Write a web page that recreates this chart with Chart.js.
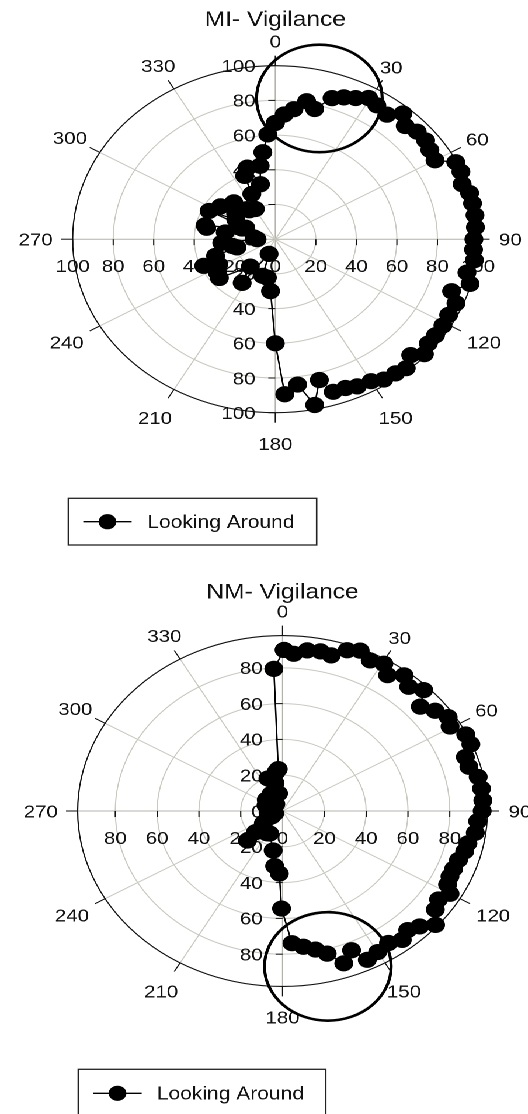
<!DOCTYPE html>
<html>
<head>
<meta charset="utf-8">
<title>Vigilance polar plots</title>
<script src="https://cdn.jsdelivr.net/npm/chart.js@4.4.1/dist/chart.umd.min.js"></script>
<style>
  html, body { margin: 0; padding: 0; background: #fff; width: 528px; height: 1114px; overflow: hidden; }
  /* the plots are drawn on round axes and widened to the page width */
  #stage { position: absolute; left: 0; top: 0; width: 452px; height: 1114px;
           transform: scaleX(1.168); transform-origin: 0 0; }
  #stage canvas { position: absolute; left: 0; }
  #miChart { top: 0; }
  #nmChart { top: 560px; }
</style>
</head>
<body>
<div id="stage">
  <canvas id="miChart" width="452" height="560"></canvas>
  <canvas id="nmChart" width="452" height="554"></canvas>
</div>
<script>
// ---- data: heading (degrees, clockwise from 0) and percentage of time ----
const seriesLabel = 'Looking Around';

const miTitle = 'MI- Vigilance';
const miAngles = [0, 3.5, 7, 11, 14.5, 19, 22.5, 26, 29.5, 33, 37.5, 41, 44.5, 48.5, 52.5,
  56, 60, 63.5, 67, 71, 74.5, 78, 82, 86, 90, 93.5, 97, 101.5, 105, 109,
  112.5, 117, 121, 125, 128.5, 132, 135, 139, 142.5, 146.5, 150, 154.5, 158, 162, 165,
  168.5, 172.5, 177, 180, 184.5, 190, 196.5, 200, 213, 218, 231, 236, 242.5, 246.5, 252,
  256, 259.5, 265.5, 270, 275, 279, 281, 283, 290.5, 294.5, 296.5, 300, 305, 307, 316, 320,
  322.5, 330.5, 336, 337.5, 341.5, 347, 350, 353, 356.5];
const miRadii = [67, 72, 75.5, 81, 77.5, 86, 88.5, 90.5, 93.5, 92, 90.5, 96, 91.5, 93.5, 93.5,
  92, 91, 99.5, 99.5, 97.5, 99.5, 99.5, 99.5, 99, 98, 98, 99, 96.5, 99.5, 92,
  96.5, 96, 96.5, 96.5, 96.5, 99, 94.5, 98.5, 97.5, 97, 94.5, 94, 92.5, 92.5, 84,
  97.5, 84.5, 89.5, 60, 30, 22.5, 22, 9, 30, 20, 35.5, 34.5, 31.5, 38.5, 31,
  19.5, 21.5, 26.5, 9, 10.5, 25, 34.5, 35.5, 17.5, 16, 36.5, 22.5, 33, 24.5, 29.5, 22.5,
  21, 20, 28.5, 39.5, 43.5, 32.5, 43, 50.5, 60.5];
const miRingTicks = [20, 40, 60, 80, 100];
const miHighlight = { angle: 15, radius: 84, size: 31 };

const nmTitle = 'NM- Vigilance';
const nmAngles = [0.5, 3.5, 7.5, 11.5, 15, 19, 22.5, 26.5, 30.5, 33.5, 37.5, 41, 45, 48.5, 52.5,
  56.5, 59.5, 64, 67.5, 71, 74.5, 78.5, 82.5, 86.5, 90, 93.5, 97.5, 101.5, 104.5, 108,
  111.5, 114.5, 117.5, 120, 123.5, 127, 131, 134.5, 138, 141.5, 145.5, 150, 154, 157, 161,
  165, 168.5, 172.5, 176.5, 180.5, 182.5, 187, 191.5, 206, 211, 225.5, 227.5, 233, 240, 250,
  262, 275, 291.5, 309, 320, 330, 339, 347, 349, 352, 355, 357];
const nmRadii = [90, 88, 90.5, 91, 90, 95, 97, 94, 95.5, 91, 95.5, 92, 95.5, 88, 92,
  95, 93, 97.5, 97.5, 92.5, 92.5, 95.5, 96, 96, 95.5, 93.5, 93, 90.5, 90, 88.5,
  88, 88, 89, 92.5, 89.5, 91.5, 97, 92, 89.5, 92, 89.5, 91, 92.5, 84.5, 90,
  82.5, 79, 76.5, 74, 54.5, 35, 31, 22.5, 14, 14.5, 23.5, 17.5, 11.5, 6, 4,
  7, 6, 8.5, 10, 5, 11, 19.5, 16, 10, 22, 23.5, 79.5];
const nmRingTicks = [20, 40, 60, 80];
const nmHighlight = { angle: 166, radius: 89.5, size: 30.3 };

const angleTicks = [0, 30, 60, 90, 120, 150, 180, 210, 240, 270, 300, 330];

// ---- drawing helpers ----
const FONT = '"Liberation Sans", Arial, Helvetica, sans-serif';
const GRID = '#c9c9c0';
const AXIS = '#b3b3ab';
const INK = '#111';

const rad = d => d * Math.PI / 180;
const toXY = (deg, r) => ({ x: r * Math.sin(rad(deg)), y: r * Math.cos(rad(deg)) });

// text centred on the height of its capitals
function textMid(ctx, txt, x, y, size, align) {
  ctx.textAlign = align || 'center';
  ctx.textBaseline = 'alphabetic';
  ctx.fillText(txt, x, y + size * 0.358);
}

function polarFrame(cfg) {
  return {
    id: 'polarFrame',
    beforeDatasetsDraw(chart) {
      const { ctx, scales: { x, y } } = chart;
      const cx = x.getPixelForValue(0), cy = y.getPixelForValue(0);
      const rx = r => x.getPixelForValue(r) - cx;
      const ry = r => cy - y.getPixelForValue(r);
      const max = cfg.max;
      ctx.save();
      ctx.lineWidth = 1;

      // rings
      ctx.strokeStyle = GRID;
      cfg.rings.filter(r => r < max).forEach(r => {
        ctx.beginPath();
        ctx.ellipse(cx, cy, rx(r), ry(r), 0, 0, Math.PI * 2);
        ctx.stroke();
      });
      // spokes
      angleTicks.forEach(a => {
        const s = Math.sin(rad(a)), c = Math.cos(rad(a));
        ctx.strokeStyle = (a % 90 === 0) ? AXIS : GRID;
        ctx.beginPath();
        ctx.moveTo(cx, cy);
        ctx.lineTo(cx + s * rx(max), cy - c * ry(max));
        ctx.stroke();
      });
      // outer boundary
      ctx.strokeStyle = INK;
      ctx.lineWidth = 1.1;
      ctx.beginPath();
      ctx.ellipse(cx, cy, rx(max), ry(max), 0, 0, Math.PI * 2);
      ctx.stroke();
      // outward angle ticks
      ctx.lineWidth = 1;
      angleTicks.forEach(a => {
        const s = Math.sin(rad(a)), c = Math.cos(rad(a));
        const ex = cx + s * rx(max), ey = cy - c * ry(max);
        ctx.beginPath();
        ctx.moveTo(ex, ey);
        ctx.lineTo(ex + s * 10, ey - c * 10);
        ctx.stroke();
      });
      // radial axis ticks
      cfg.rings.forEach(r => {
        [-1, 1].forEach(sg => {
          const ty = cy - sg * ry(r);
          ctx.beginPath(); ctx.moveTo(cx - 6, ty); ctx.lineTo(cx, ty); ctx.stroke();
          const tx = cx + sg * rx(r);
          ctx.beginPath(); ctx.moveTo(tx, cy); ctx.lineTo(tx, cy + 6); ctx.stroke();
        });
      });

      // radial labels
      const fs = 17.5;
      ctx.fillStyle = INK;
      ctx.font = fs + 'px ' + FONT;
      const values = [0].concat(cfg.rings);
      values.forEach(r => {
        [-1, 1].forEach(sg => {
          if (r === 0 && sg < 0) return;
          textMid(ctx, String(r), cx - 17, cy - sg * ry(r), fs, 'right');
          textMid(ctx, String(r), cx + sg * rx(r), cy + 26.5, fs, 'center');
        });
      });
      // angle labels
      angleTicks.forEach(a => {
        const s = Math.sin(rad(a)), c = Math.cos(rad(a));
        const txt = String(a);
        const hw = ctx.measureText(txt).width / 2;
        const extra = 24.5 + 6.5 * (1 - c) / 2 + Math.abs(s) * (hw - 9.7) * 0.8;
        textMid(ctx, txt, cx + s * (rx(max) + extra), cy - c * (ry(max) + extra), fs, 'center');
      });
      ctx.restore();
    },
    afterDatasetsDraw(chart) {
      const { ctx, scales: { x, y } } = chart;
      const h = cfg.highlight;
      const p = toXY(h.angle, h.radius);
      const px = x.getPixelForValue(p.x), py = y.getPixelForValue(p.y);
      const w = x.getPixelForValue(h.size) - x.getPixelForValue(0);
      const v = y.getPixelForValue(0) - y.getPixelForValue(h.size);
      ctx.save();
      ctx.strokeStyle = '#000';
      ctx.lineWidth = 2.6;
      ctx.beginPath();
      ctx.ellipse(px, py, w, v, 0, 0, Math.PI * 2);
      ctx.stroke();
      ctx.restore();
    },
    afterDraw(chart) {
      const { ctx, scales: { x } } = chart;
      const cx = x.getPixelForValue(0);
      ctx.save();
      ctx.fillStyle = INK;
      // title
      ctx.font = '21px ' + FONT;
      textMid(ctx, cfg.title, cx, cfg.titleY, 21, 'center');
      // legend
      const L = cfg.legend;
      ctx.strokeStyle = '#222';
      ctx.lineWidth = 1.3;
      ctx.strokeRect(L.x, L.y, L.w, L.h);
      const ds = chart.data.datasets[0];
      ctx.strokeStyle = ds.borderColor;
      ctx.lineWidth = ds.borderWidth;
      ctx.beginPath(); ctx.moveTo(L.lineX0, L.rowY); ctx.lineTo(L.lineX1, L.rowY); ctx.stroke();
      ctx.fillStyle = ds.pointBackgroundColor;
      ctx.beginPath(); ctx.arc((L.lineX0 + L.lineX1) / 2, L.rowY, ds.pointRadius, 0, Math.PI * 2); ctx.fill();
      ctx.fillStyle = INK;
      ctx.font = '18px ' + FONT;
      textMid(ctx, ds.label, L.textX, L.rowY, 18, 'left');
      ctx.restore();
    }
  };
}

function buildChart(canvasId, cfg) {
  const pts = cfg.angles.map((a, i) => toXY(a, cfg.radii[i]));
  pts.push(pts[0]); // the trace returns to its starting heading
  return new Chart(document.getElementById(canvasId), {
    type: 'scatter',
    data: {
      datasets: [{
        label: seriesLabel,
        data: pts,
        showLine: true,
        borderColor: '#000',
        borderWidth: 1.3,
        backgroundColor: '#000',
        pointBackgroundColor: '#000',
        pointBorderColor: '#000',
        pointRadius: 7.6,
        pointBorderWidth: 1,
        clip: false
      }]
    },
    options: {
      responsive: false,
      animation: false,
      devicePixelRatio: 2,
      events: [],
      layout: { padding: cfg.padding },
      scales: {
        x: { type: 'linear', min: -cfg.max, max: cfg.max, display: false },
        y: { type: 'linear', min: -cfg.max, max: cfg.max, display: false }
      },
      plugins: { legend: { display: false }, title: { display: false }, tooltip: { enabled: false } }
    },
    plugins: [polarFrame(cfg)]
  });
}

buildChart('miChart', {
  title: miTitle, titleY: 18.7,
  angles: miAngles, radii: miRadii, rings: miRingTicks, max: 100,
  highlight: miHighlight,
  padding: { left: 62.2, right: 42.8, top: 65.7, bottom: 147.3 },
  legend: { x: 58.5, y: 498.3, w: 212.6, h: 46.7, lineX0: 71.3, lineX1: 112.7, rowY: 521.7, textX: 126.1 }
});

buildChart('nmChart', {
  title: nmTitle, titleY: 30.9,
  angles: nmAngles, radii: nmRadii, rings: nmRingTicks, max: 98,
  highlight: nmHighlight,
  padding: { left: 66.5, right: 34.7, top: 75.6, bottom: 127.6 },
  legend: { x: 67, y: 509.3, w: 211.9, h: 46.7, lineX0: 79.9, lineX1: 121.3, rowY: 533.3, textX: 134.2 }
});
</script>
</body>
</html>
